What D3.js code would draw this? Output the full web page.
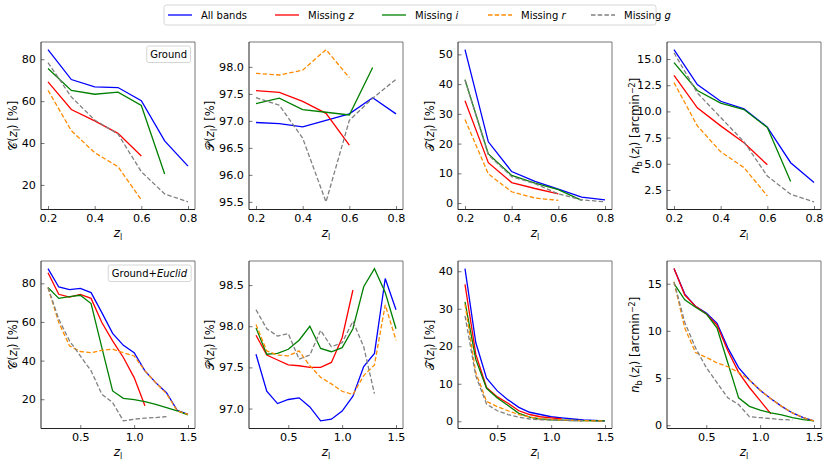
<!DOCTYPE html>
<html><head><meta charset="utf-8">
<script src="https://cdn.jsdelivr.net/npm/d3@7"></script>
<style>
html,body{margin:0;padding:0;background:#fff;}
svg{display:block;font-family:"DejaVu Sans",sans-serif;}
</style></head>
<body><svg id="c" width="830" height="463"></svg>
<script>
// ---------- data ----------
const seriesNames = ["All bands", "Missing z", "Missing i", "Missing r", "Missing g"];
const seriesColors = ["#0000ff", "#ff0000", "#008000", "#ff8c00", "#808080"];
const seriesDashed = [false, false, false, true, true];

const zGround = [0.2, 0.3, 0.4, 0.5, 0.6, 0.7, 0.8];
const zEuclid = [0.2, 0.3, 0.4, 0.5, 0.6, 0.7, 0.8, 0.9, 1.0, 1.1, 1.2, 1.3, 1.4, 1.5];

// rows: All bands, Missing z, Missing i, Missing r, Missing g
const C_ground = [
  [84.6, 70.3, 66.8, 66.5, 60.2, 41.0, 29.0],
  [69.2, 56.0, 50.6, 44.6, 33.8],
  [75.6, 65.1, 63.3, 64.3, 57.9, 25.2],
  [65.2, 45.9, 35.4, 28.7, 12.9],
  [78.4, 62.0, 51.0, 44.3, 26.3, 15.7, 11.9]
];
const P_ground = [
  [96.97, 96.95, 96.89, 97.01, 97.13, 97.43, 97.13],
  [97.56, 97.53, 97.36, 97.14, 96.55],
  [97.32, 97.42, 97.21, 97.16, 97.11, 97.99],
  [97.88, 97.85, 97.94, 98.32, 97.80],
  [97.43, 97.29, 96.68, 95.50, 97.01, 97.42, 97.77]
];
const T_ground = [
  [51.6, 20.6, 10.6, 7.3, 4.7, 2.0, 1.1],
  [34.4, 13.6, 6.9, 4.9, 3.1],
  [41.5, 16.5, 9.3, 6.7, 4.5, 0.9],
  [28.1, 9.8, 3.8, 1.7, 0.9],
  [41.3, 16.2, 8.9, 6.5, 3.1, 1.1, 0.4]
];
const N_ground = [
  [15.9, 12.56, 10.97, 10.24, 8.5, 5.1, 3.2],
  [13.45, 10.34, 8.62, 7.0, 4.9],
  [14.65, 12.0, 10.8, 10.18, 8.46, 3.3],
  [12.75, 8.62, 6.15, 4.63, 1.93],
  [15.6, 11.76, 9.42, 7.1, 3.83, 2.09, 1.36]
];
const C_euclid = [
  [87.6, 78.1, 76.7, 77.4, 75.2, 64.8, 54.1, 47.9, 44.1, 34.7, 28.6, 23.4, 14.3, 12.2],
  [85.5, 74.3, 72.9, 74.3, 72.2, 59.7, 50.2, 41.6, 31.2, 16.6],
  [77.8, 72.2, 73.1, 73.8, 69.5, 46.7, 24.3, 20.5, 19.8, 18.8, 17.4, 15.7, 14.0, 11.9],
  [77.8, 59.7, 47.6, 44.7, 44.1, 45.3, 45.9, 44.1, 42.4, 34.7, 28.6, 22.9, 14.0, 12.2],
  [77.8, 61.4, 50.2, 42.4, 34.7, 22.6, 18.3, 8.8, 9.7, 10.2, 10.5, 11.0]
];
const P_euclid = [
  [97.66, 97.21, 97.06, 97.11, 97.13, 97.02, 96.85, 96.87, 96.97, 97.15, 97.51, 97.67, 98.58, 98.20],
  [97.89, 97.65, 97.59, 97.53, 97.52, 97.50, 97.50, 97.56, 97.86, 98.44],
  [97.98, 97.66, 97.67, 97.72, 97.83, 98.00, 97.73, 97.69, 97.74, 97.97, 98.48, 98.70, 98.41, 97.97],
  [98.02, 97.70, 97.65, 97.64, 97.70, 97.52, 97.38, 97.30, 97.21, 97.17, 97.40, 97.53, 98.26, 97.83],
  [98.20, 97.97, 97.88, 97.91, 97.60, 97.65, 97.95, 97.75, 97.80, 98.06, 97.75, 97.18]
];
const T_euclid = [
  [40.7, 21.0, 11.5, 8.1, 5.7, 3.7, 2.4, 1.8, 1.2, 0.9, 0.6, 0.35, 0.2, 0.1],
  [36.5, 17.9, 9.0, 6.5, 4.8, 2.8, 1.8, 1.2, 0.9, 0.6],
  [31.8, 16.5, 8.8, 6.2, 4.2, 2.1, 1.1, 0.6, 0.4, 0.3, 0.2, 0.15, 0.1, 0.1],
  [31.2, 13.0, 5.3, 3.9, 2.8, 1.8, 1.1, 0.7, 0.5, 0.35, 0.25, 0.15, 0.1, 0.1],
  [28.1, 12.1, 4.6, 2.8, 1.8, 1.1, 0.6, 0.4, 0.35, 0.25, 0.2, 0.1]
];
const N_euclid = [
  [16.6, 13.9, 12.6, 11.9, 10.8, 8.2, 6.1, 4.8, 3.7, 2.8, 2.0, 1.3, 0.8, 0.46],
  [16.6, 13.8, 12.6, 11.8, 10.6, 7.9, 5.6, 4.0, 2.6, 1.2],
  [15.0, 13.3, 12.5, 11.8, 10.3, 6.6, 2.9, 2.0, 1.6, 1.3, 1.1, 0.8, 0.6, 0.46],
  [15.2, 10.3, 7.7, 7.2, 6.6, 6.2, 5.6, 4.8, 3.7, 2.8, 2.0, 1.3, 0.8, 0.46],
  [15.2, 10.9, 8.2, 6.1, 4.5, 2.9, 2.2, 0.9, 0.8, 0.7, 0.6, 0.56]
];

const xTicksGround = [0.2, 0.4, 0.6, 0.8];
const xTicksEuclid = [0.5, 1.0, 1.5];
const yTicks_C_ground = [20, 40, 60, 80];
const yTicks_P_ground = [95.5, 96.0, 96.5, 97.0, 97.5, 98.0];
const yTicks_T_ground = [0, 10, 20, 30, 40, 50];
const yTicks_N_ground = [2.5, 5.0, 7.5, 10.0, 12.5, 15.0];
const yTicks_C_euclid = [20, 40, 60, 80];
const yTicks_P_euclid = [97.0, 97.5, 98.0, 98.5];
const yTicks_T_euclid = [0, 10, 20, 30, 40];
const yTicks_N_euclid = [0, 5, 10, 15];

// ---------- layout ----------
const svg = d3.select("#c");
const colX = [41, 249, 458, 667];
const rowY = [42, 261];
const PW = 154, PH = 167.5;

const panels = [
  {row:0, col:0, z:zGround, data:C_ground, xt:xTicksGround, xf:".1f", yt:yTicks_C_ground, yf:"d", lab:"C", box:["Ground"]},
  {row:0, col:1, z:zGround, data:P_ground, xt:xTicksGround, xf:".1f", yt:yTicks_P_ground, yf:".1f", lab:"P"},
  {row:0, col:2, z:zGround, data:T_ground, xt:xTicksGround, xf:".1f", yt:yTicks_T_ground, yf:"d", lab:"T"},
  {row:0, col:3, z:zGround, data:N_ground, xt:xTicksGround, xf:".1f", yt:yTicks_N_ground, yf:".1f", lab:"N"},
  {row:1, col:0, z:zEuclid, data:C_euclid, xt:xTicksEuclid, xf:".1f", yt:yTicks_C_euclid, yf:"d", lab:"C", box:["Ground+","Euclid"]},
  {row:1, col:1, z:zEuclid, data:P_euclid, xt:xTicksEuclid, xf:".1f", yt:yTicks_P_euclid, yf:".1f", lab:"P"},
  {row:1, col:2, z:zEuclid, data:T_euclid, xt:xTicksEuclid, xf:".1f", yt:yTicks_T_euclid, yf:"d", lab:"T"},
  {row:1, col:3, z:zEuclid, data:N_euclid, xt:xTicksEuclid, xf:".1f", yt:yTicks_N_euclid, yf:"d", lab:"N"}
];

const scriptLetter = {C:"\u{1D49E}", P:"\u{1D4AB}", T:"\u{1D4AF}"};
const yLabelOffset = {C:-24.5, T:-24.5, P:-35, N:-28};

panels.forEach(p => {
  const x0 = colX[p.col], y0 = rowY[p.row];
  const g = svg.append("g").attr("transform", `translate(${x0},${y0})`);
  const zmin = d3.min(p.z), zmax = d3.max(p.z);
  const zpad = (zmax - zmin) * 0.05;
  const all = p.data.flat();
  const vmin = d3.min(all), vmax = d3.max(all);
  const vpad = (vmax - vmin) * 0.05;
  const x = d3.scaleLinear().domain([zmin - zpad, zmax + zpad]).range([0, PW]);
  const y = d3.scaleLinear().domain([vmin - vpad, vmax + vpad]).range([PH, 0]);

  const clipId = `clip${p.row}${p.col}`;
  g.append("clipPath").attr("id", clipId).append("rect").attr("width", PW).attr("height", PH);

  // axes
  const xa = g.append("g").attr("transform", `translate(0,${PH})`)
    .call(d3.axisBottom(x).tickValues(p.xt).tickFormat(d3.format(p.xf)).tickSizeInner(-3.5).tickSizeOuter(0).tickPadding(5));
  const ya = g.append("g")
    .call(d3.axisLeft(y).tickValues(p.yt).tickFormat(d3.format(p.yf)).tickSizeInner(-3.5).tickSizeOuter(0).tickPadding(5));
  [xa, ya].forEach(a => {
    a.select(".domain").remove();
    a.selectAll(".tick line").attr("stroke", "#555").attr("stroke-width", 0.8);
    a.selectAll(".tick text").attr("font-size", 11.2).attr("fill", "#000")
      .attr("font-family", "DejaVu Sans");
  });

  // lines
  const lines = g.append("g").attr("clip-path", `url(#${clipId})`);
  p.data.forEach((vals, si) => {
    const pts = vals.map((v, i) => [p.z[i], v]);
    lines.append("path")
      .attr("d", d3.line().x(d => x(d[0])).y(d => y(d[1]))(pts))
      .attr("fill", "none")
      .attr("stroke", seriesColors[si])
      .attr("stroke-width", 1.3)
      .attr("stroke-dasharray", seriesDashed[si] ? "4.5,2.2" : null);
  });

  // frame
  g.append("line").attr("x1", 0).attr("x2", PW).attr("y1", 0).attr("y2", 0).attr("stroke", "#777").attr("stroke-width", 1);
  g.append("line").attr("x1", PW).attr("x2", PW).attr("y1", 0).attr("y2", PH).attr("stroke", "#777").attr("stroke-width", 1);
  g.append("line").attr("x1", 0).attr("x2", 0).attr("y1", 0).attr("y2", PH).attr("stroke", "#222").attr("stroke-width", 1);
  g.append("line").attr("x1", 0).attr("x2", PW).attr("y1", PH).attr("y2", PH).attr("stroke", "#222").attr("stroke-width", 1);

  // x label
  const xl = g.append("text").attr("x", PW / 2).attr("y", PH + 27).attr("text-anchor", "middle")
    .attr("font-size", 12).attr("fill", "#000");
  xl.append("tspan").attr("font-style", "italic").text("z");
  xl.append("tspan").attr("font-size", 8).attr("dy", 3).text("l");

  // y label
  const yl = g.append("text").attr("transform", `translate(${yLabelOffset[p.lab]},${PH / 2}) rotate(-90)`)
    .attr("text-anchor", "middle").attr("font-size", 11.5).attr("fill", "#000");
  if (p.lab === "N") {
    yl.append("tspan").attr("font-style", "italic").text("n");
    yl.append("tspan").attr("font-size", 8).attr("dy", 2.5).text("b");
    yl.append("tspan").attr("dy", -2.5).text("\u2009(");
  } else {
    yl.append("tspan").text(scriptLetter[p.lab]);
    yl.append("tspan").text("(");
  }
  yl.append("tspan").attr("font-style", "italic").text("z");
  yl.append("tspan").attr("font-size", 8).attr("dy", 3).text("l");
  if (p.lab === "N") {
    yl.append("tspan").attr("dy", -3).text(") [arcmin");
    yl.append("tspan").attr("font-size", 8).attr("dy", -4).text("\u22122");
    yl.append("tspan").attr("dy", 4).text("]");
  } else {
    yl.append("tspan").attr("dy", -3).text(") [%]");
  }

  // annotation box
  if (p.box) {
    const boxG = g.append("g");
    const bt = boxG.append("text").attr("font-size", 10).attr("fill", "#000").attr("text-anchor", "end")
      .attr("x", PW - 8).attr("y", 15.5);
    bt.append("tspan").text(p.box[0]);
    if (p.box[1]) bt.append("tspan").attr("font-style", "italic").text(p.box[1]);
    const bb = bt.node().getBBox();
    boxG.insert("rect", ":first-child")
      .attr("x", bb.x - 3.5).attr("y", 4).attr("width", bb.width + 7).attr("height", 16.5)
      .attr("rx", 2).attr("fill", "#fff").attr("stroke", "#ccc").attr("stroke-width", 0.8);
  }
});

// ---------- legend ----------
const leg = svg.append("g");
leg.append("rect").attr("x", 164).attr("y", 5).attr("width", 492).attr("height", 20)
  .attr("rx", 2.5).attr("fill", "#fff").attr("stroke", "#ccc").attr("stroke-width", 0.8);
const legX = [168, 275, 382, 488, 591];
seriesNames.forEach((name, i) => {
  const lx = legX[i];
  leg.append("line").attr("x1", lx).attr("x2", lx + 24).attr("y1", 15).attr("y2", 15)
    .attr("stroke", seriesColors[i]).attr("stroke-width", 1.3)
    .attr("stroke-dasharray", seriesDashed[i] ? "4.5,2.2" : null);
  const t = leg.append("text").attr("x", lx + 33).attr("y", 18.5).attr("font-size", 10).attr("fill", "#000");
  if (i === 0) t.text(name);
  else {
    t.append("tspan").text("Missing ");
    t.append("tspan").attr("font-style", "italic").text(name.split(" ")[1]);
  }
});
</script></body></html>
